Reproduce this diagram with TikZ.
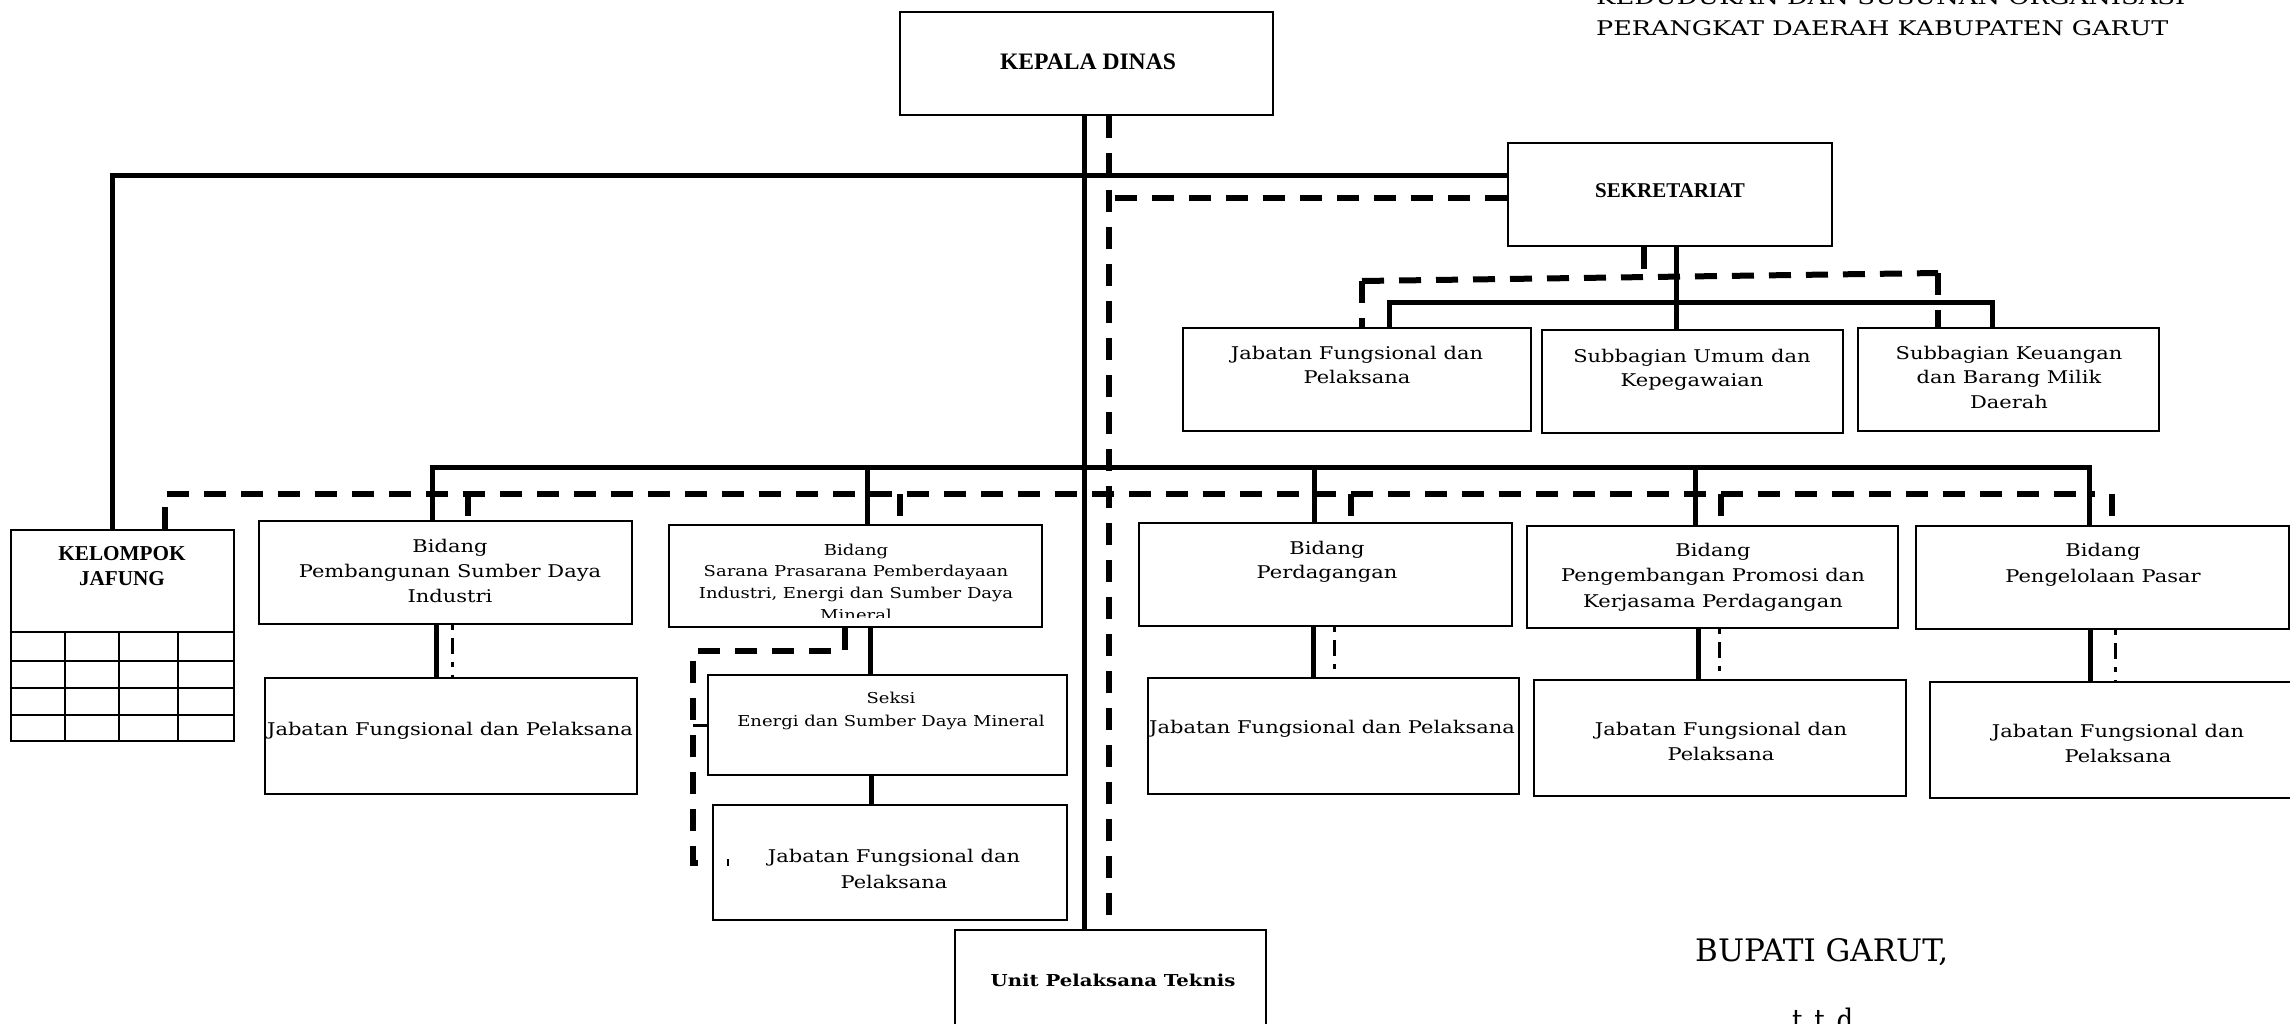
\documentclass[tikz,border=0pt]{standalone}
\usepackage{fontspec}
\setmainfont{DejaVu Serif}[FakeStretch=1.2]
\newfontfamily\timesfont{Liberation Serif}
\usepackage{graphicx}
\usetikzlibrary{calc,fit}

% centred multi-line text whose baseline is the first line
\newcommand\ml[1]{\vtop{\halign{\hfil##\hfil\cr#1\crcr}}}

\begin{document}
\begin{tikzpicture}[x=1pt,y=-1pt,
  box/.style={draw, line width=1.8pt, rectangle, inner sep=0pt},
  txt/.style={inner sep=0pt, anchor=base, font=\fontsize{17.5}{24.5}\selectfont},
  txtsm/.style={inner sep=0pt, anchor=base, font=\fontsize{15}{21.7}\selectfont},
  hd/.style={inner sep=0pt, anchor=base, font=\timesfont\bfseries\fontsize{21.2}{25}\selectfont},
  plain/.style={inner sep=0pt, anchor=base west},
  solidln/.style={line width=5pt},
  dashln/.style={line width=6pt, dash pattern=on 22pt off 15pt},
  dotln/.style={line width=3pt, dash pattern=on 5pt off 8pt on 16pt off 8pt},
  tickln/.style={line width=3pt},
  gridln/.style={line width=1.8pt},
]
\useasboundingbox (0,0) rectangle (2290,1024);

% ---------- boxes ----------
\node[box, fit={(900,12)(1273,115)}] (kd) {};
\node[box, fit={(1508,143)(1832,246)}] (sek) {};
\node[box, fit={(1183,328)(1531,431)}] (jfs) {};
\node[box, fit={(1542,330)(1843,433)}] (sbu) {};
\node[box, fit={(1858,328)(2159,431)}] (sbk) {};
\node[box, fit={(11,530)(234,741)}] (kj) {};
\node[box, fit={(259,521)(632,624)}] (b1) {};
\node[box, fit={(265,678)(637,794)}] (j1) {};
\node[box, fit={(669,525)(1042,627)}] (b2) {};
\node[box, fit={(708,675)(1067,775)}] (sk) {};
\node[box, fit={(713,805)(1067,920)}] (j2) {};
\node[box, fit={(955,930)(1266,1040)}] (upt) {};
\node[box, fit={(1139,523)(1512,626)}] (b3) {};
\node[box, fit={(1148,678)(1519,794)}] (j3) {};
\node[box, fit={(1527,526)(1898,628)}] (b4) {};
\node[box, fit={(1534,680)(1906,796)}] (j4) {};
\node[box, fit={(1916,526)(2289,629)}] (b5) {};
\node[box, fit={(1930,682)(2306,798)}] (j5) {};

% table of the functional group
\foreach \yy in {632,661,688,715} \draw[gridln] (11,\yy) -- (234,\yy);
\foreach \xx in {65,119,178} \draw[gridln] (\xx,632) -- (\xx,741);

% ---------- texts ----------
\node[hd, font=\timesfont\bfseries\fontsize{23.6}{28}\selectfont] (kd-t) at (1088,70) {KEPALA DINAS};
\node[hd, font=\timesfont\bfseries\fontsize{21}{25}\selectfont] (sek-t) at (1670,198) {SEKRETARIAT};
\node[hd] (kj-t) at (122,560) {\ml{KELOMPOK\cr JAFUNG}};
\node[txt, font=\bfseries\fontsize{16.4}{20}\selectfont] (upt-t) at (1113,986) {Unit Pelaksana Teknis};

\node[txt] (jfs-t) at (1357,359) {\ml{Jabatan Fungsional dan\cr Pelaksana}};
\node[txt] (sbu-t) at (1692,362) {\ml{Subbagian Umum dan\cr Kepegawaian}};
\node[txt] (sbk-t) at (2009,359) {\ml{Subbagian Keuangan\cr dan Barang Milik\cr Daerah}};

\node[txt, font=\fontsize{17.5}{25}\selectfont] (b1-t) at (450,552) {\ml{Bidang\cr Pembangunan Sumber Daya\cr Industri}};
\node[txt] (j1-t) at (450,735) {Jabatan Fungsional dan Pelaksana};

\begin{scope}
  \clip (669,525) rectangle (1042,617);
  \node[txtsm] (b2-t) at (856,555) {\ml{Bidang\cr Sarana Prasarana Pemberdayaan\cr Industri, Energi dan Sumber Daya\cr Mineral}};
\end{scope}
\node[txtsm, font=\fontsize{15}{23}\selectfont] (sk-t) at (891,703) {\ml{Seksi\cr Energi dan Sumber Daya Mineral}};
\node[txt, font=\fontsize{17.5}{26}\selectfont] (j2-t) at (894,862) {\ml{Jabatan Fungsional dan\cr Pelaksana}};

\node[txt] (b3-t) at (1327,554) {\ml{Bidang\cr Perdagangan}};
\node[txt] (j3-t) at (1332,733) {Jabatan Fungsional dan Pelaksana};
\node[txt, font=\fontsize{17.5}{25.5}\selectfont] (b4-t) at (1713,556) {\ml{Bidang\cr Pengembangan Promosi dan\cr Kerjasama Perdagangan}};
\node[txt, font=\fontsize{17.5}{25}\selectfont] (j4-t) at (1721,735) {\ml{Jabatan Fungsional dan\cr Pelaksana}};
\node[txt, font=\fontsize{17.5}{26}\selectfont] (b5-t) at (2103,556) {\ml{Bidang\cr Pengelolaan Pasar}};
\node[txt, font=\fontsize{17.5}{25}\selectfont] (j5-t) at (2118,737) {\ml{Jabatan Fungsional dan\cr Pelaksana}};

\node[plain] (ttl1) at (1596,5) {\resizebox{589pt}{15pt}{KEDUDUKAN DAN SUSUNAN ORGANISASI}};
\node[plain] (ttl2) at (1596,36) {\resizebox{572pt}{15pt}{PERANGKAT DAERAH KABUPATEN GARUT}};
\node[plain] (bpt) at (1695,961) {\resizebox{253pt}{23pt}{BUPATI GARUT,}};
\node[plain] (ttd) at (1792,1031) {\resizebox{61pt}{23.5pt}{t.\,t.\,d}};

% ---------- connector positions ----------
\coordinate (tS) at (1084,0);   \coordinate (tD) at (1108.5,0);
\coordinate (yA) at (0,176);    \coordinate (yB) at (0,198);
\coordinate (kS) at (112,0);    \coordinate (kD) at (165,0);
\coordinate (yS) at (0,467);    \coordinate (dEnd) at (2095,494);
\coordinate (yD) at (0,494);
\coordinate (s1) at (432,0);  \coordinate (s2) at (867,0);  \coordinate (s3) at (1314,0);
\coordinate (s4) at (1695,0); \coordinate (s5) at (2089,0);
\coordinate (e1) at (468,0);  \coordinate (e2) at (900,0);  \coordinate (e3) at (1351,0);
\coordinate (e4) at (1721,0); \coordinate (e5) at (2112,0);
\coordinate (u1) at (436,0);  \coordinate (v1) at (452,0);
\coordinate (u3) at (1313,0); \coordinate (v3) at (1334,0);
\coordinate (u4) at (1698,0); \coordinate (v4) at (1719,0);
\coordinate (u5) at (2090,0); \coordinate (v5) at (2115,0);
\coordinate (u2) at (870,0);  \coordinate (w2) at (871,0);
\coordinate (sx) at (1676,0); \coordinate (sh) at (0,302);
\coordinate (sl) at (1389,0); \coordinate (sr) at (1992,0);
\coordinate (sdx) at (1644,0); \coordinate (sdm) at (1644,277);
\coordinate (sdl) at (1362,281); \coordinate (sdr) at (1938,273);
\coordinate (la) at (845,0);  \coordinate (lb) at (693,651);
\coordinate (tm) at (728,859);

% ---------- connectors ----------
% head of office: trunk lines
\draw[solidln] (kd.south -| tS) -- (upt.north -| tS);
\draw[dashln] (kd.south -| tD) -- (upt.north -| tD);
\draw[solidln] (sek.west |- yA) -| (kj.north -| kS);
\draw[dashln] (sek.west |- yB) -- (tD |- yB);

% secretariat
\draw[solidln] (sek.south -| sx) -- (sbu.north -| sx);
\draw[solidln] (jfs.north -| sl) |- (sr |- sh) -- (sbk.north -| sr);
\draw[dashln] (sek.south -| sdx) -- (sdm);
\draw[dashln] (sdl) -- (sdr);
\draw[dashln] (sdl) -- (jfs.north -| sdl);
\draw[dashln] (sdr) -- (sbk.north -| sdr);

% bus to the fields
\draw[solidln] (b1.north -| s1) |- (s5 |- yS) -- (b5.north -| s5);
\foreach \n/\c in {b2/s2,b3/s3,b4/s4}
  \draw[solidln] (\c |- yS) -- (\n.north -| \c);
\draw[dashln] (kj.north -| kD) |- (dEnd);
\foreach \n/\c in {b1/e1,b2/e2,b3/e3,b4/e4,b5/e5}
  \draw[dashln] (\c |- yD) -- (\n.north -| \c);

% fields to their staff
\foreach \b/\j/\u/\v in {b1/j1/u1/v1,b3/j3/u3/v3,b4/j4/u4/v4,b5/j5/u5/v5}{
  \draw[solidln] (\b.south -| \u) -- (\j.north -| \u);
  \draw[dotln] (\b.south -| \v) -- (\j.north -| \v);
}
\draw[solidln] (b2.south -| u2) -- (sk.north -| u2);
\draw[solidln] (sk.south -| w2) -- (j2.north -| w2);
\draw[dashln] (b2.south -| la) |- (lb) |- (j2.west);
\draw[tickln] (lb |- sk.west) -- (sk.west);
\draw[line width=1.5pt] (tm) -- ++(0,7);

\end{tikzpicture}
\end{document}
